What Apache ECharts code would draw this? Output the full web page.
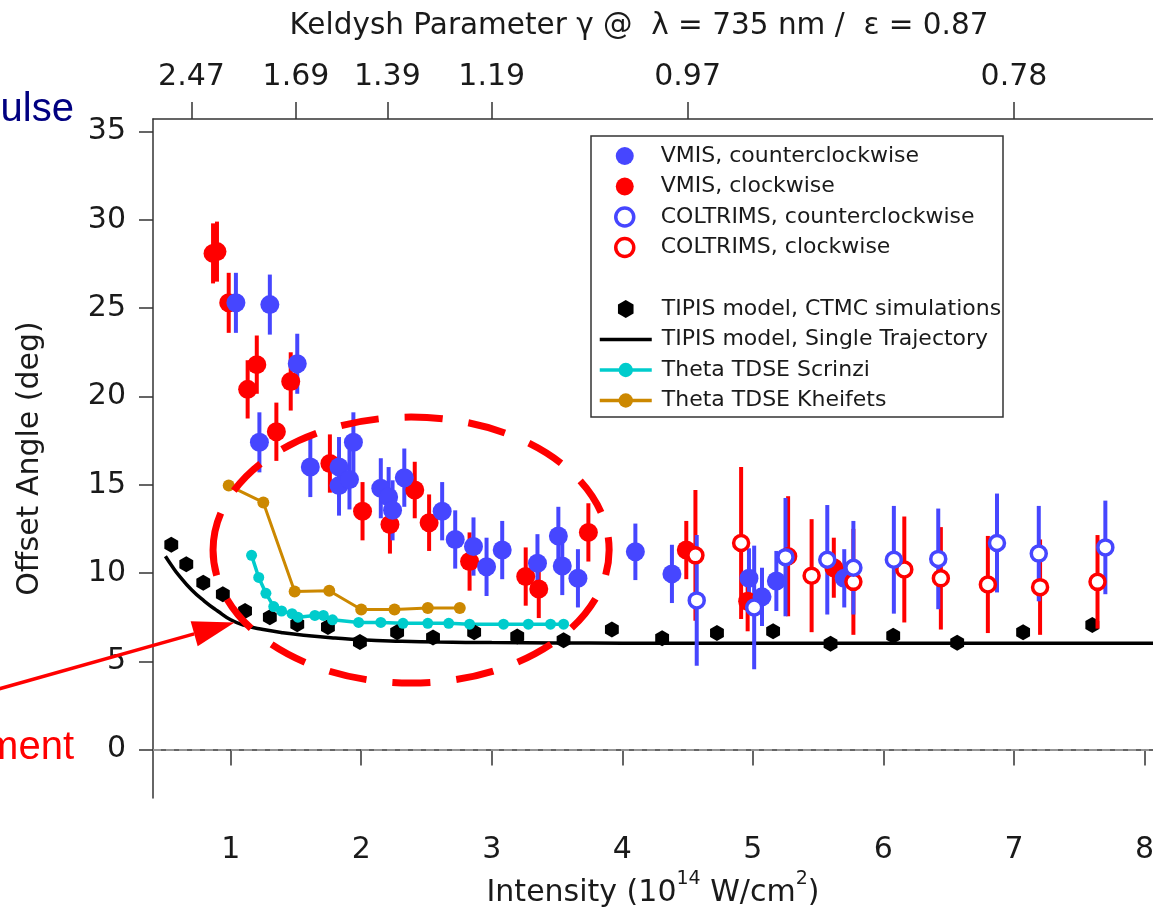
<!DOCTYPE html>
<html>
<head>
<meta charset="utf-8">
<script src="https://cdn.jsdelivr.net/npm/echarts@6/dist/echarts.min.js"></script>
<style>
  html, body { margin: 0; padding: 0; background: #fff; }
  #chart { width: 1153px; height: 911px; }
</style>
</head>
<body>
<div id="chart"></div>
<script>
// ---------------- data ----------------
// bottom axis: laser intensity in 1e14 W/cm^2, left axis: offset angle in degrees
const intensityTicks = [1, 2, 3, 4, 5, 6, 7, 8];
const angleTicks = [0, 5, 10, 15, 20, 25, 30, 35];

// top axis: Keldysh parameter shown at the matching intensities
const keldyshIntensity = [0.7, 1.5, 2.2, 3.0, 4.5, 7.0];
const keldyshLabels = ['2.47', '1.69', '1.39', '1.19', '0.97', '0.78'];

// measurements: [intensity, angle, error]
const vmisCcw = [
  [1.04, 25.3, 1.7], [1.30, 25.2, 1.7], [1.51, 21.85, 1.7], [1.22, 17.4, 1.7],
  [1.61, 16.0, 1.7], [1.83, 16.0, 1.7], [1.83, 14.95, 1.7], [1.91, 15.3, 1.7],
  [1.94, 17.4, 1.7], [2.15, 14.8, 1.7], [2.21, 14.3, 1.7], [2.24, 13.55, 1.7],
  [2.33, 15.4, 1.65], [2.62, 13.5, 1.65], [2.72, 11.9, 1.65], [2.86, 11.5, 1.65],
  [2.96, 10.35, 1.65], [3.08, 11.3, 1.65], [3.35, 10.55, 1.65], [3.51, 12.1, 1.65],
  [3.54, 10.4, 1.65], [3.66, 9.7, 1.65], [4.10, 11.2, 1.6], [4.38, 9.95, 1.65],
  [4.97, 9.7, 1.7], [5.07, 8.65, 1.65], [5.18, 9.55, 1.7], [5.70, 9.7, 1.65]
];
const vmisCw = [
  [0.865, 28.1, 1.7], [0.895, 28.2, 1.7], [0.985, 25.3, 1.7], [1.13, 20.4, 1.65],
  [1.20, 21.8, 1.65], [1.35, 18.0, 1.65], [1.46, 20.85, 1.65], [1.76, 16.2, 1.65],
  [2.01, 13.5, 1.65], [2.22, 12.75, 1.65], [2.41, 14.7, 1.6], [2.52, 12.85, 1.6],
  [2.83, 10.65, 1.65], [3.26, 9.8, 1.65], [3.36, 9.1, 1.65], [3.74, 12.3, 1.65],
  [4.49, 11.3, 1.65], [4.96, 8.4, 1.7], [5.62, 10.3, 1.7]
];
const coltrimsCcw = [
  [4.57, 8.45, 3.7], [5.01, 8.05, 3.5], [5.25, 10.9, 3.35], [5.57, 10.75, 3.1],
  [5.77, 10.3, 2.65], [6.08, 10.75, 3.05], [6.42, 10.8, 2.85], [6.87, 11.7, 2.8],
  [7.19, 11.1, 2.7], [7.70, 11.45, 2.65]
];
const coltrimsCw = [
  [4.56, 11.0, 3.7], [4.91, 11.7, 4.3], [5.27, 10.95, 3.4], [5.45, 9.85, 3.2],
  [5.77, 9.5, 3.0], [6.16, 10.2, 3.0], [6.44, 9.7, 2.9], [6.80, 9.35, 2.75],
  [7.20, 9.2, 2.7], [7.64, 9.5, 2.65]
];

// models: [intensity, angle]
const tipisCtmc = [
  [0.545, 11.6], [0.66, 10.5], [0.79, 9.45], [0.94, 8.8], [1.11, 7.85], [1.30, 7.5],
  [1.51, 7.1], [1.745, 6.95], [1.99, 6.1], [2.275, 6.65], [2.55, 6.35], [2.865, 6.65],
  [3.195, 6.4], [3.55, 6.2], [3.92, 6.8], [4.305, 6.3], [4.725, 6.6], [5.155, 6.7],
  [5.595, 6.0], [6.075, 6.45], [6.565, 6.05], [7.07, 6.65], [7.60, 7.05]
];
const tipisSingle = [
  [0.50, 10.95], [0.55, 10.4], [0.60, 9.9], [0.70, 9.05], [0.80, 8.4], [0.90, 7.85],
  [1.00, 7.35], [1.10, 7.05], [1.25, 6.8], [1.40, 6.62], [1.60, 6.45], [1.80, 6.32],
  [2.00, 6.22], [2.30, 6.14], [2.60, 6.09], [3.00, 6.06], [3.50, 6.04], [4.00, 6.03],
  [5.00, 6.02], [6.00, 6.02], [7.00, 6.02], [8.10, 6.02]
];
const tdseScrinzi = [
  [1.16, 11.0], [1.215, 9.75], [1.27, 8.85], [1.33, 8.1], [1.39, 7.85], [1.47, 7.7],
  [1.515, 7.5], [1.645, 7.6], [1.71, 7.6], [1.78, 7.35], [1.98, 7.2], [2.15, 7.2],
  [2.32, 7.15], [2.51, 7.15], [2.67, 7.15], [2.83, 7.1], [3.09, 7.1], [3.28, 7.1],
  [3.45, 7.1], [3.55, 7.1]
];
const tdseKheifets = [
  [0.985, 14.95], [1.25, 14.0], [1.49, 8.95], [1.755, 9.0], [2.0, 7.93], [2.255, 7.93],
  [2.51, 8.02], [2.755, 8.02]
];

// ---------------- styling ----------------
const FONT = 'DejaVu Sans';
const INK = '#1a1a1a';
const BLUE = '#4646ff';
const RED = '#ff0000';
const CYAN = '#00cccc';
const GOLD = '#cc8800';
const HEXAGON = 'path://M0,-1 L0.866,-0.5 L0.866,0.5 L0,1 L-0.866,0.5 L-0.866,-0.5 Z';
const LINE_ICON = 'path://M0,0 L52,0 L52,3.5 L0,3.5 Z';

const X_MIN = 0.405, X_MAX = 8.065, Y_MIN = -2.74, Y_MAX = 35.71;

const NAMES = {
  vmisCcw: 'VMIS, counterclockwise',
  vmisCw: 'VMIS, clockwise',
  colCcw: 'COLTRIMS, counterclockwise',
  colCw: 'COLTRIMS, clockwise',
  ctmc: 'TIPIS model, CTMC simulations',
  single: 'TIPIS model, Single Trajectory',
  scrinzi: 'Theta TDSE Scrinzi',
  kheifets: 'Theta TDSE Kheifets'
};

// vertical error bar for each [x, y, err] row
function errorBars(name, data, color) {
  return {
    name: name, type: 'custom', data: data, z: 5, silent: true,
    encode: { x: 0, y: 1 },
    renderItem: function (params, api) {
      const x = api.value(0), y = api.value(1), e = api.value(2);
      const a = api.coord([x, y - e]), b = api.coord([x, y + e]);
      return {
        type: 'line',
        shape: { x1: a[0], y1: a[1], x2: b[0], y2: b[1] },
        style: { stroke: color, lineWidth: 4 }
      };
    }
  };
}

function labelFor(values, labels) {
  return function (v) {
    for (let i = 0; i < values.length; i++) {
      if (Math.abs(values[i] - v) < 1e-6) return labels[i];
    }
    return '';
  };
}

const tickLabel = { fontFamily: FONT, fontSize: 30, color: INK };
const axisLine = { show: true, lineStyle: { color: '#333', width: 1.5 } };
const axisTickStyle = { color: '#333', width: 1.5 };

const legendCommon = {
  orient: 'vertical', padding: 0,
  itemWidth: 52, itemHeight: 18, itemGap: 8.5,
  selectedMode: false,
  lineStyle: { width: 3.5 },
  textStyle: { fontFamily: FONT, fontSize: 22, color: INK, lineHeight: 22, padding: [0, 0, 0, 5] }
};

const chart = echarts.init(document.getElementById('chart'), null, { renderer: 'canvas' });

chart.setOption({
  animation: false,
  backgroundColor: '#fff',
  grid: { left: 153, right: 0, top: 119, bottom: 113, containLabel: false, outerBoundsMode: 'none' },
  xAxis: [
    {
      type: 'value', position: 'bottom', min: X_MIN, max: X_MAX,
      axisLine: axisLine,
      axisTick: { show: true, inside: false, length: 16, lineStyle: axisTickStyle, customValues: intensityTicks },
      axisLabel: Object.assign({ margin: 37, customValues: intensityTicks, formatter: v => String(v) }, tickLabel),
      splitLine: { show: false },
      name: '{b|Intensity (10}{sup|14}{b| W/cm}{sup|2}{b|)}',
      nameLocation: 'middle', nameGap: 66,
      nameTextStyle: {
        fontFamily: FONT, fontSize: 30, color: INK,
        rich: {
          b: { fontFamily: FONT, fontSize: 30, color: INK, lineHeight: 46, verticalAlign: 'middle' },
          sup: { fontFamily: FONT, fontSize: 19, color: INK, lineHeight: 20, verticalAlign: 'top' }
        }
      }
    },
    {
      type: 'value', position: 'top', min: X_MIN, max: X_MAX,
      axisLine: axisLine,
      axisTick: { show: true, inside: false, length: 17, lineStyle: axisTickStyle, customValues: keldyshIntensity },
      axisLabel: Object.assign({ margin: 27, customValues: keldyshIntensity,
        formatter: labelFor(keldyshIntensity, keldyshLabels) }, tickLabel),
      splitLine: { show: false },
      name: 'Keldysh Parameter \u03b3 @  \u03bb = 735 nm /  \u03b5 = 0.87',
      nameLocation: 'middle', nameGap: 78,
      nameTextStyle: { fontFamily: FONT, fontSize: 29.5, color: INK, padding: [0, 28, 0, 0] }
    }
  ],
  yAxis: {
    type: 'value', min: Y_MIN, max: Y_MAX,
    axisLine: axisLine,
    axisTick: { show: true, inside: false, length: 14, lineStyle: axisTickStyle, customValues: angleTicks },
    axisLabel: Object.assign({ margin: 27, customValues: angleTicks, formatter: v => String(v) }, tickLabel),
    splitLine: { show: false },
    name: 'Offset Angle (deg)',
    nameLocation: 'middle', nameGap: 108, nameRotate: 90,
    nameTextStyle: { fontFamily: FONT, fontSize: 30, color: INK }
  },
  legend: [
    Object.assign({ left: 614, top: 145,
      data: [
        NAMES.vmisCcw,
        NAMES.vmisCw,
        { name: NAMES.colCcw, itemStyle: { borderWidth: 3.5 } },
        { name: NAMES.colCw, itemStyle: { borderWidth: 3.5 } }
      ] }, legendCommon),
    Object.assign({ left: 598, top: 298,
      data: [NAMES.ctmc, { name: NAMES.single, icon: LINE_ICON }, NAMES.scrinzi, NAMES.kheifets] }, legendCommon)
  ],
  series: [
    {
      name: NAMES.single, type: 'line', data: tipisSingle, smooth: true,
      symbol: 'none', z: 2, silent: true,
      lineStyle: { color: '#000', width: 3.5 }, itemStyle: { color: '#000' },
      markLine: {
        silent: true, symbol: ['none', 'none'], label: { show: false },
        lineStyle: { color: '#a6a6a6', type: [8, 5], width: 1.5 },
        data: [{ yAxis: 0 }]
      }
    },
    {
      name: NAMES.ctmc, type: 'scatter', data: tipisCtmc, z: 3, silent: true,
      symbol: HEXAGON, symbolSize: 16, symbolKeepAspect: true,
      itemStyle: { color: '#000', opacity: 1 }
    },
    {
      name: NAMES.scrinzi, type: 'line', data: tdseScrinzi, z: 3, silent: true,
      symbol: 'circle', symbolSize: 11, showSymbol: true, showAllSymbol: true,
      lineStyle: { color: CYAN, width: 3.5 }, itemStyle: { color: CYAN }
    },
    {
      name: NAMES.kheifets, type: 'line', data: tdseKheifets, z: 3, silent: true,
      symbol: 'circle', symbolSize: 12, showSymbol: true,
      lineStyle: { color: GOLD, width: 3 }, itemStyle: { color: GOLD }
    },
    errorBars('vmisCwErr', vmisCw, RED),
    errorBars('vmisCcwErr', vmisCcw, BLUE),
    errorBars('coltrimsCwErr', coltrimsCw, RED),
    errorBars('coltrimsCcwErr', coltrimsCcw, BLUE),
    {
      name: NAMES.vmisCw, type: 'scatter', data: vmisCw, z: 6, silent: true,
      symbol: 'circle', symbolSize: 19, itemStyle: { color: RED, opacity: 1 }
    },
    {
      name: NAMES.vmisCcw, type: 'scatter', data: vmisCcw, z: 7, silent: true,
      symbol: 'circle', symbolSize: 19, itemStyle: { color: BLUE, opacity: 1 }
    },
    {
      name: NAMES.colCw, type: 'scatter', data: coltrimsCw, z: 8, silent: true,
      symbol: 'circle', symbolSize: 15,
      itemStyle: { color: '#fff', borderColor: RED, borderWidth: 3.5, opacity: 1 }
    },
    {
      name: NAMES.colCcw, type: 'scatter', data: coltrimsCcw, z: 9, silent: true,
      symbol: 'circle', symbolSize: 15,
      itemStyle: { color: '#fff', borderColor: BLUE, borderWidth: 3.5, opacity: 1 }
    }
  ]
});

// ---------------- annotations ----------------
// dashed ellipse around the low-intensity region, given in axis units
const region = { cx: 2.382, cy: 11.3, rx: 1.517, ry: 7.53 };
// arrow pointing at the single-trajectory curve
const arrowTip = [1.03, 7.2];

const toPx = p => chart.convertToPixel({ xAxisIndex: 0, yAxisIndex: 0 }, p);
const c = toPx([region.cx, region.cy]);
const e = toPx([region.cx + region.rx, region.cy + region.ry]);
const tip = toPx(arrowTip);
const tail = [-5, 690];
const dx = tip[0] - tail[0], dy = tip[1] - tail[1];
const len = Math.sqrt(dx * dx + dy * dy);
const ux = dx / len, uy = dy / len;
const headLen = 42, headHalf = 13;
const base = [tip[0] - ux * headLen, tip[1] - uy * headLen];

chart.setOption({
  graphic: [
    {
      type: 'rect', z: 1, silent: true,
      shape: { x: 591, y: 136, width: 412, height: 281 },
      style: { fill: '#fff', stroke: '#333', lineWidth: 1.5 }
    },
    {
      type: 'ellipse', z: 100, silent: true,
      shape: { cx: c[0], cy: c[1], rx: Math.abs(e[0] - c[0]), ry: Math.abs(c[1] - e[1]) },
      style: { fill: 'none', stroke: RED, lineWidth: 7, lineDash: [38, 26] }
    },
    {
      type: 'polyline', z: 100, silent: true,
      shape: { points: [tail, base] },
      style: { stroke: RED, lineWidth: 3.5, fill: 'none' }
    },
    {
      type: 'polygon', z: 100, silent: true,
      shape: { points: [tip,
        [base[0] - uy * headHalf, base[1] + ux * headHalf],
        [base[0] + uy * headHalf, base[1] - ux * headHalf]] },
      style: { fill: RED }
    },
    {
      type: 'text', z: 100, silent: true, x: 74, y: 110,
      style: { text: 'ulse', fill: '#000080', fontFamily: 'Liberation Sans', fontSize: 40,
               align: 'right', verticalAlign: 'middle' }
    },
    {
      type: 'text', z: 100, silent: true, x: 74, y: 748,
      style: { text: 'ment', fill: RED, fontFamily: 'Liberation Sans', fontSize: 40,
               align: 'right', verticalAlign: 'middle' }
    }
  ]
});
</script>
</body>
</html>
